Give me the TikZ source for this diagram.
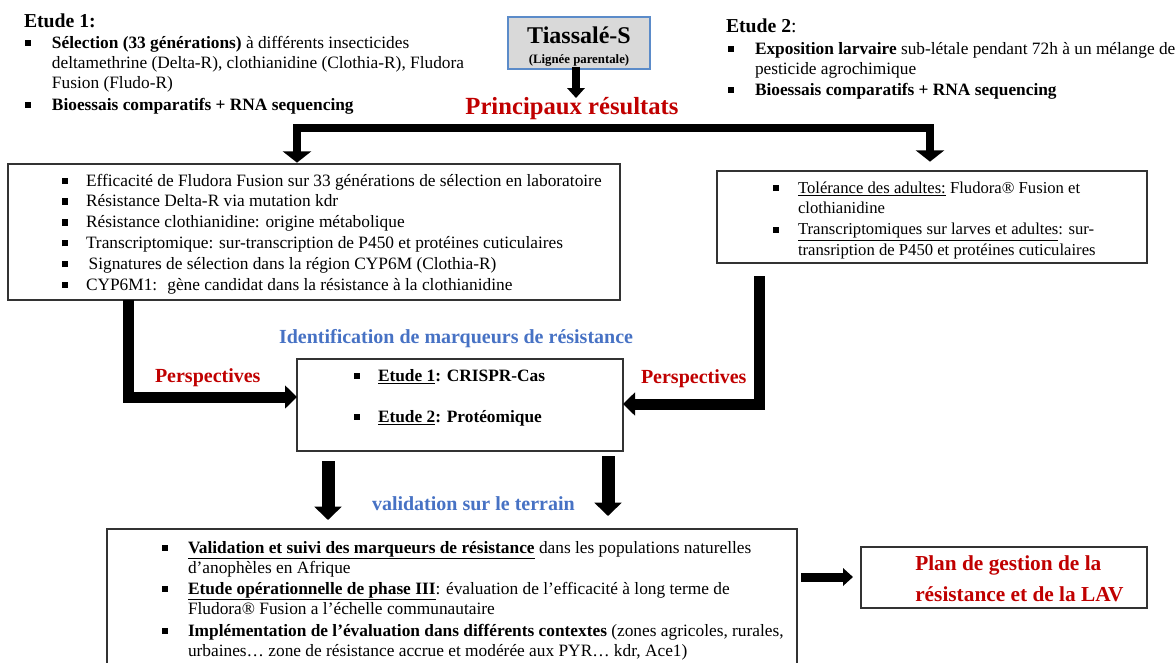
\documentclass[tikz,border=0pt]{standalone}
\usepackage{fontspec}
\setmainfont{Liberation Serif}
\usetikzlibrary{arrows.meta,fit}
\definecolor{rred}{RGB}{192,0,0}
\definecolor{bblue}{RGB}{71,114,196}
\definecolor{tiaborder}{RGB}{91,139,201}
\definecolor{tiafill}{RGB}{217,217,217}
\newcommand{\sqb}{\rule[0.12em]{0.36em}{0.36em}}
\newcommand{\itm}[2]{\makebox[#1][l]{\sqb}\begin{tabular}[t]{@{}l@{}}#2\end{tabular}}
\begin{document}
\begin{tikzpicture}[x=0.75pt,y=-0.75pt,
  txt/.style={anchor=base west,inner sep=0pt,outer sep=0pt,font=\fontsize{13}{15.2}\selectfont},
  txtb/.style={txt,font=\fontsize{12.5}{15.4}\selectfont},
  ttl/.style={anchor=base west,inner sep=0pt,outer sep=0pt,font=\fontsize{14.8}{17}\selectfont\bfseries},
  lbl/.style={anchor=base west,inner sep=0pt,outer sep=0pt,font=\fontsize{15}{17}\selectfont\bfseries},
  frame/.style={draw=black!80,line width=0.9pt,inner sep=0pt,outer sep=0pt},
  fat/.style={line join=miter,line cap=butt},
  arrT/.style={fat,line width=6pt,-{Triangle[length=7.5pt,width=13pt]}},
  arrM/.style={fat,line width=8.25pt,-{Triangle[length=9pt,width=17pt]}},
  arrL/.style={fat,line width=9.75pt,-{Triangle[length=10pt,width=20pt]}},
  arrR/.style={fat,line width=6.75pt,-{Triangle[length=7.5pt,width=13pt]}}
]
\useasboundingbox (0,0) rectangle (1175,662);

% ---------- Etude 1 ----------
\node[ttl] (e1t) at (24,27) {Etude 1:};
\node[txt] (e1a) at (25,48) {\itm{20.25pt}{\textbf{Sélection (33 générations)} à différents insecticides\\ deltamethrine (Delta-R), clothianidine (Clothia-R), Fludora\\ Fusion (Fludo-R)}};
\node[txt] (e1b) at (25,110) {\itm{20.25pt}{\textbf{Bioessais comparatifs + RNA sequencing}}};

% ---------- Etude 2 ----------
\node[ttl] (e2t) at (726,32) {Etude 2\mdseries:};
\node[txt] (e2a) at (728,54) {\itm{20.25pt}{\textbf{Exposition larvaire} sub-létale pendant 72h à un mélange de\\ pesticide agrochimique}};
\node[txt] (e2b) at (728,95) {\itm{20.25pt}{\textbf{Bioessais comparatifs + RNA sequencing}}};

% ---------- Tiassalé ----------
\node[draw=tiaborder,fill=tiafill,line width=1.1pt,inner sep=0pt,fit={(508,17)(650,69)}] (tia) {};
\node[anchor=base,inner sep=0pt,font=\fontsize{18}{20}\selectfont\bfseries] (tian) at (579,43) {Tiassalé-S};
\node[anchor=base,inner sep=0pt,font=\fontsize{9.6}{11}\selectfont\bfseries] (tiab) at (579,63) {(Lignée parentale)};

\node[anchor=base,inner sep=0pt,font=\fontsize{18.5}{21}\selectfont\bfseries,text=rred] (res) at (572,114) {Principaux résultats};
\coordinate (tiaTip) at (576,98);
\draw[arrT] (tia.south -| tiaTip) ++(0,-3) -- (tiaTip);

% ---------- Box 1 ----------
\node[frame,fit={(8,164)(620,300)}] (b1) {};
\node[txt] (b1a) at (62,186) {\itm{18pt}{Efficacité de Fludora Fusion sur 33 générations de sélection en laboratoire}};
\node[txt] (b1b) at (62,206.8) {\itm{18pt}{Résistance Delta-R via mutation kdr}};
\node[txt] (b1c) at (62,227.6) {\itm{18pt}{Résistance clothianidine: origine métabolique}};
\node[txt] (b1d) at (62,248.4) {\itm{18pt}{Transcriptomique: sur-transcription de P450 et protéines cuticulaires}};
\node[txt] (b1e) at (62,269.2) {\itm{18pt}{\hspace{2pt}Signatures de sélection dans la région CYP6M (Clothia-R)}};
\node[txt] (b1f) at (62,290) {\itm{18pt}{CYP6M1: \ gène candidat dans la résistance à la clothianidine}};

% ---------- Box 2 ----------
\node[frame,fit={(717,171)(1147,263)}] (b2) {};
\node[txtb] (b2a) at (773,193) {\itm{18.75pt}{\underline{Tolérance des adultes:} Fludora® Fusion et\\ clothianidine}};
\node[txtb] (b2b) at (773,234.5) {\itm{18.75pt}{\underline{Transcriptomiques sur larves et adultes}: sur-\\ transription de P450 et protéines cuticulaires}};

% ---------- branch arrows from results ----------
\coordinate (bl) at (297,128);
\coordinate (br) at (930,128);
\draw[fat,line width=6pt,{Triangle[length=8.5pt,width=21pt]}-{Triangle[length=8.5pt,width=21pt]}]
  ([yshift=1pt]b1.north -| bl) |- (br) -- ([yshift=7pt]b2.north -| br);

% ---------- Box 3 ----------
\node[lbl,text=bblue] (ident) at (279,343) {Identification de marqueurs de résistance};
\node[frame,fit={(297,359)(623,451)}] (b3) {};
\node[txt,font=\fontsize{13}{15}\selectfont\bfseries] (b3a) at (354,381) {\itm{18pt}{\underline{Etude 1}: CRISPR-Cas}};
\node[txt,font=\fontsize{13}{15}\selectfont\bfseries] (b3b) at (354,422) {\itm{18pt}{\underline{Etude 2}: Protéomique}};

\node[lbl,text=rred] (persL) at (155,382) {Perspectives};
\node[lbl,text=rred] (persR) at (641,383) {Perspectives};

\coordinate (lc) at (128,397);
\coordinate (rc) at (759,404);
\coordinate (rs) at (759,276);
\draw[arrM] (b1.south -| lc) |- (lc -| b3.west);
\draw[arrM] (rs) |- (rc -| b3.east);

% ---------- validation ----------
\node[lbl,text=bblue] (valid) at (372,510) {validation sur le terrain};
\coordinate (d1s) at (328,461);
\coordinate (d1e) at (328,520);
\coordinate (d2s) at (608,456);
\coordinate (d2e) at (608,516);
\draw[arrL] (d1s) -- (d1e);
\draw[arrL] (d2s) -- (d2e);

% ---------- Box 4 ----------
\node[frame,fit={(107,529)(797,680)}] (b4) {};
\node[txt] (b4a) at (162,553) {\itm{19.5pt}{\underline{\textbf{Validation et suivi des marqueurs de résistance}} dans les populations naturelles\\ d’anophèles en Afrique}};
\node[txt] (b4b) at (162,594) {\itm{19.5pt}{\underline{\textbf{Etude opérationnelle de phase III}}: évaluation de l’efficacité à long terme de\\ Fludora® Fusion a l’échelle communautaire}};
\node[txt] (b4c) at (162,636) {\itm{19.5pt}{\textbf{Implémentation de l’évaluation dans différents contextes} (zones agricoles, rurales,\\ urbaines… zone de résistance accrue et modérée aux PYR… kdr, Ace1)}};

% ---------- Box 5 ----------
\node[frame,fit={(861,547)(1147,608)}] (b5) {};
\node[anchor=base west,inner sep=0pt,font=\fontsize{16}{23.5}\selectfont\bfseries,text=rred] (b5t) at (915,570) {\begin{tabular}[t]{@{}l@{}}Plan de gestion de la\\ résistance et de la LAV\end{tabular}};
\coordinate (r5) at (801,577);
\draw[arrR] (r5) -- ([xshift=-6pt]b5.west |- r5);
\end{tikzpicture}
\end{document}
